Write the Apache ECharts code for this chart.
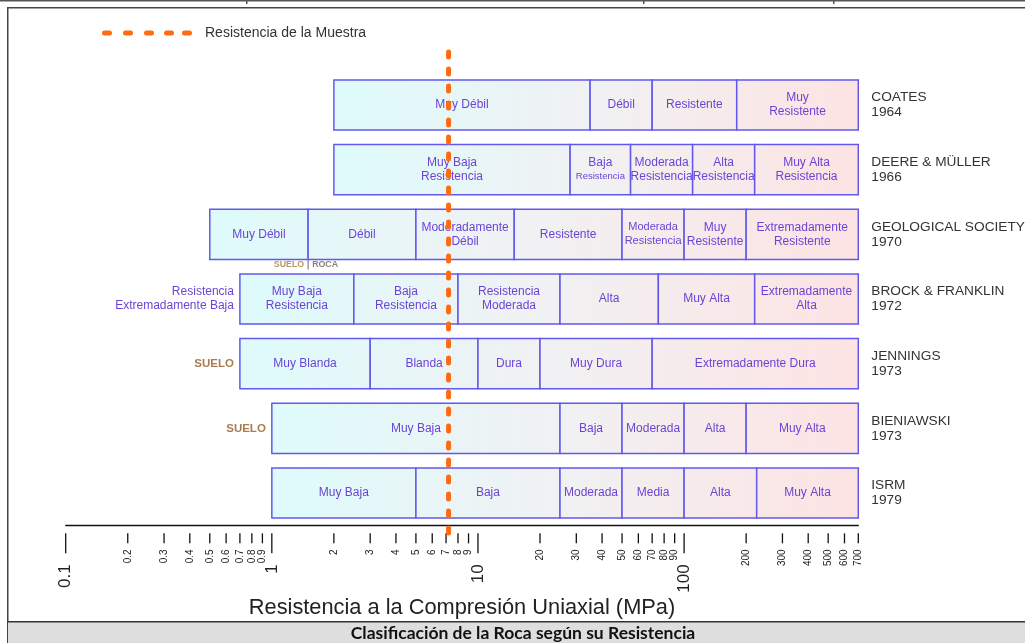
<!DOCTYPE html>
<html>
<head>
<meta charset="utf-8">
<style>
html, body { margin: 0; padding: 0; background: #fff; }
#chart { width: 1025px; height: 643px; }
</style>
<script src="https://cdn.jsdelivr.net/npm/echarts@6/dist/echarts.min.js"></script>
</head>
<body>
<div id="chart"></div>
<script>
// clasificaciones, de arriba a abajo
const autores = ['COATES', 'DEERE & MÜLLER', 'GEOLOGICAL SOCIETY', 'BROCK & FRANKLIN', 'JENNINGS', 'BIENIAWSKI', 'ISRM'];
const anios = ['1964', '1966', '1970', '1972', '1973', '1973', '1979'];
// límites de cada clase (MPa)
const limites = [
  [2, 35, 70, 180, 700],
  [2, 28, 55, 110, 220, 700],
  [0.5, 1.5, 5, 15, 50, 100, 200, 700],
  [0.7, 2.5, 8, 25, 75, 220, 700],
  [0.7, 3, 10, 20, 70, 700],
  [1, 25, 50, 100, 200, 700],
  [1, 5, 25, 50, 100, 225, 700]
];
const clases = [
  ['Muy Débil', 'Débil', 'Resistente', 'Muy\nResistente'],
  ['Muy Baja\nResistencia', 'Baja\n{s|Resistencia}', 'Moderada\nResistencia', 'Alta\nResistencia', 'Muy Alta\nResistencia'],
  ['Muy Débil', 'Débil', 'Moderadamente\nDébil', 'Resistente', '{m|Moderada}\n{m|Resistencia}', 'Muy\nResistente', 'Extremadamente\nResistente'],
  ['Muy Baja\nResistencia', 'Baja\nResistencia', 'Resistencia\nModerada', 'Alta', 'Muy Alta', 'Extremadamente\nAlta'],
  ['Muy Blanda', 'Blanda', 'Dura', 'Muy Dura', 'Extremadamente Dura'],
  ['Muy Baja', 'Baja', 'Moderada', 'Alta', 'Muy Alta'],
  ['Muy Baja', 'Baja', 'Moderada', 'Media', 'Alta', 'Muy Alta']
];
// texto a la izquierda de cada barra
const etiquetasIzq = ['', '', '', 'Resistencia\nExtremadamente Baja', 'SUELO', 'SUELO', ''];
// resistencia de la muestra (MPa)
const muestra = 7.2;
// límite suelo / roca en la fila de la Geological Society
const sueloRoca = [1.5, 2];
// marcas del eje
const ticks = [0.1, 0.2, 0.3, 0.4, 0.5, 0.6, 0.7, 0.8, 0.9, 1, 2, 3, 4, 5, 6, 7, 8, 9, 10,
  20, 30, 40, 50, 60, 70, 80, 90, 100, 200, 300, 400, 500, 600, 700];
const decadas = [0.1, 1, 10, 100];

const AZUL = '#6358ee';
const MORADO = '#6b44d6';
const MARRON = '#a87e50';
const NARANJA = '#ff6a13';
const FUENTE = '"Liberation Sans", Arial, sans-serif';

// una celda por clase
const celdas = [];
const textos = [];
limites.forEach((lim, fila) => {
  for (let i = 0; i < lim.length - 1; i++) {
    celdas.push([lim[i], lim[i + 1], fila]);
    textos.push(clases[fila][i]);
  }
});

function renderCelda(params, api) {
  const fila = api.value(2);
  const p0 = api.coord([api.value(0), fila]);
  const p1 = api.coord([api.value(1), fila]);
  const h = api.size([0, 1])[1] * 0.775;
  const lim = limites[fila];
  const a = api.coord([lim[0], fila])[0];
  const b = api.coord([lim[lim.length - 1], fila])[0];
  return {
    type: 'rect',
    shape: { x: p0[0], y: p0[1] - h / 2, width: p1[0] - p0[0], height: h },
    style: {
      fill: new echarts.graphic.LinearGradient(a, 0, b, 0, [
        { offset: 0, color: '#defbfb' },
        { offset: 0.5, color: '#f1f1f3' },
        { offset: 1, color: '#fde3e3' }
      ], true),
      stroke: AZUL,
      lineWidth: 1.5
    },
    textContent: {
      style: {
        text: textos[params.dataIndex],
        fill: MORADO,
        fontSize: 12,
        fontFamily: FUENTE,
        align: 'center',
        lineHeight: 14,
        rich: {
          s: { fontSize: 9.5, fill: MORADO, fontFamily: FUENTE, lineHeight: 14 },
          m: { fontSize: 11, fill: MORADO, fontFamily: FUENTE, lineHeight: 14 }
        }
      }
    },
    textConfig: { position: 'inside' }
  };
}

function renderIzq(params, api) {
  const fila = api.value(1);
  const p = api.coord([api.value(0), fila]);
  const txt = etiquetasIzq[fila];
  const suelo = txt === 'SUELO';
  return {
    type: 'text',
    x: p[0] - 6,
    y: p[1],
    style: {
      text: txt,
      fill: suelo ? MARRON : MORADO,
      fontWeight: suelo ? 'bold' : 'normal',
      fontSize: suelo ? 11.5 : 12,
      fontFamily: FUENTE,
      align: 'right',
      verticalAlign: 'middle',
      lineHeight: 14
    }
  };
}

function renderSueloRoca(params, api) {
  const p = api.coord([api.value(0), api.value(1)]);
  const y = p[1] + api.size([0, 1])[1] * 0.3875;
  return {
    type: 'group',
    children: [
      { type: 'line', shape: { x1: p[0], y1: y, x2: p[0], y2: y + 10 }, style: { stroke: '#8a8080', lineWidth: 1.2 } },
      { type: 'text', x: p[0] - 4, y: y + 5, style: { text: 'SUELO', fill: '#b89868', fontWeight: 'bold', fontSize: 8.8, fontFamily: FUENTE, align: 'right', verticalAlign: 'middle' } },
      { type: 'text', x: p[0] + 4, y: y + 5, style: { text: 'ROCA', fill: '#8a7f80', fontWeight: 'bold', fontSize: 8.8, fontFamily: FUENTE, align: 'left', verticalAlign: 'middle' } }
    ]
  };
}

function renderTick(params, api) {
  const v = api.value(0);
  const x = api.coord([v, 0])[0];
  const y = params.coordSys.y + params.coordSys.height + 8;
  const mayor = decadas.indexOf(v) >= 0;
  return {
    type: 'group',
    children: [
      { type: 'line', shape: { x1: x, y1: y, x2: x, y2: y + (mayor ? 20 : 10) }, style: { stroke: '#111', lineWidth: 1.3 } },
      {
        type: 'text', x: x, y: y + (mayor ? 31 : 16), rotation: Math.PI / 2,
        style: {
          text: String(v), fill: '#222', fontSize: mayor ? 17 : 10, fontFamily: FUENTE,
          align: 'right', verticalAlign: 'middle'
        }
      }
    ]
  };
}

// icono de la leyenda: cinco trazos redondeados
const trazo = x => 'M' + (x + 2.5) + ',0h5a2.5,2.5 0 0 1 0,5h-5a2.5,2.5 0 0 1 0,-5z';
const iconoMuestra = 'path://' + [0, 21, 42, 62, 80].map(trazo).join('');

const chart = echarts.init(document.getElementById('chart'));
chart.setOption({
  animation: false,
  backgroundColor: '#fff',
  grid: { left: 65.7, right: 166.7, top: 72.67, bottom: 117.67, outerBoundsMode: 'none', containLabel: false },
  legend: {
    left: 97, top: 21, itemWidth: 90, itemHeight: 5,
    textStyle: { fontSize: 14, color: '#333', fontFamily: FUENTE, padding: [0, 0, 0, 8] },
    data: [{ name: 'Resistencia de la Muestra', icon: iconoMuestra }]
  },
  xAxis: {
    type: 'log', logBase: 10, min: 0.1, max: 700, offset: 8,
    axisLine: { show: true, lineStyle: { color: '#111', width: 1.3 } },
    axisTick: { show: false }, axisLabel: { show: false }, splitLine: { show: false },
    name: 'Resistencia a la Compresión Uniaxial (MPa)', nameLocation: 'middle', nameGap: 64,
    nameTextStyle: { fontSize: 21.8, color: '#222', fontFamily: FUENTE }
  },
  yAxis: [{
    type: 'category', data: autores, inverse: true, position: 'right',
    axisLine: { show: false }, axisTick: { show: false }, splitLine: { show: false },
    axisLabel: {
      formatter: (v, i) => v + '\n' + anios[i], align: 'left', margin: 13,
      fontSize: 13.7, color: '#333', fontFamily: FUENTE, lineHeight: 15
    }
  }, {
    type: 'value', min: 0, max: 1, show: false
  }],
  graphic: [
    { type: 'rect', shape: { x: 0, y: 0, width: 1025, height: 1.5 }, style: { fill: '#555' } },
    { type: 'rect', shape: { x: 246, y: 0, width: 1.5, height: 4 }, style: { fill: '#555' } },
    { type: 'rect', shape: { x: 643, y: 0, width: 1.5, height: 4 }, style: { fill: '#555' } },
    { type: 'rect', shape: { x: 833, y: 0, width: 1.5, height: 4 }, style: { fill: '#555' } },
    { type: 'rect', shape: { x: 7, y: 7, width: 1018, height: 1.5 }, style: { fill: '#444' } },
    { type: 'rect', shape: { x: 7, y: 7, width: 1.5, height: 636 }, style: { fill: '#444' } },
    { type: 'rect', shape: { x: 8, y: 622, width: 1017, height: 21 }, style: { fill: '#dedede' } },
    { type: 'rect', shape: { x: 7, y: 621, width: 1018, height: 1.5 }, style: { fill: '#333' } },
    {
      type: 'text', x: 523, y: 633,
      style: {
        text: 'Clasificación de la Roca según su Resistencia', fill: '#111',
        fontSize: 17.5, fontWeight: 'bold', fontFamily: 'Lato, "Open Sans", sans-serif',
        align: 'center', verticalAlign: 'middle'
      }
    }
  ],
  series: [
    { type: 'custom', name: 'clases', renderItem: renderCelda, encode: { x: [0, 1], y: 2 }, data: celdas, z: 2 },
    { type: 'custom', name: 'izq', renderItem: renderIzq, encode: { x: 0, y: 1 },
      data: etiquetasIzq.map((t, i) => [limites[i][0], i]).filter((d, i) => etiquetasIzq[i] !== ''), z: 2 },
    { type: 'custom', name: 'sueloRoca', renderItem: renderSueloRoca, encode: { x: 0, y: 1 }, data: [sueloRoca], z: 2 },
    { type: 'custom', name: 'eje', renderItem: renderTick, encode: { x: 0 }, data: ticks.map(v => [v, 0]), z: 3, clip: false },
    {
      type: 'line', name: 'Resistencia de la Muestra', xAxisIndex: 0, yAxisIndex: 1,
      data: [[muestra, -0.017], [muestra, 1.0545]], clip: false, symbol: 'none', z: 10,
      itemStyle: { color: NARANJA },
      lineStyle: { color: NARANJA, width: 5, type: [5, 12], cap: 'round' }
    }
  ]
});
</script>
</body>
</html>
